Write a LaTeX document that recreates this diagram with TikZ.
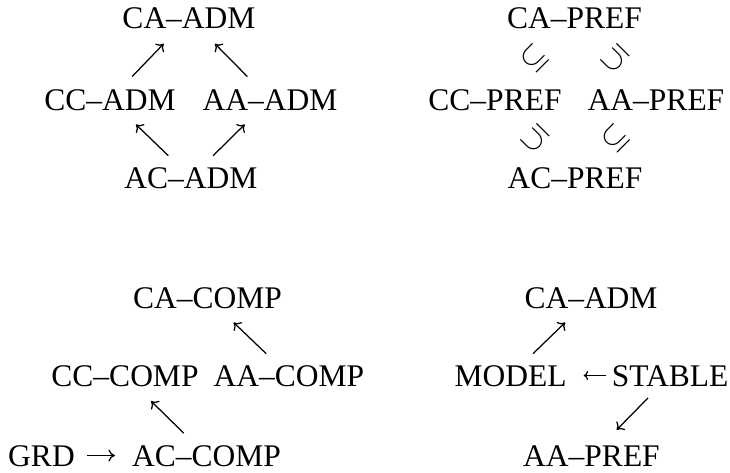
\documentclass[tikz,border=0pt]{standalone}
\usepackage{fontspec}
\setmainfont{Liberation Serif}
\usetikzlibrary{calc,arrows.meta}

\tikzset{
  lbl/.style={inner sep=0pt, anchor=base, text height=21pt, text depth=0pt,
              font=\fontsize{31.5}{38}\selectfont},
  arr/.style={line width=1.25pt, -{To[length=6.5pt,width=12pt]}},
  smallarr/.style={line width=1.2pt, -{To[length=4.5pt,width=9pt]}},
  incl/.style={inner sep=0pt}
}
% short diagonal arrow placed on the segment between two node centres
\newcommand\diagarrow[2]{\draw[arr] ($(#1)!0.28!(#2)$) -- ($(#1)!0.68!(#2)$);}
% rotated inclusion sign halfway between two node centres
\newcommand\inclsign[4]{\node[incl, rotate=#4] (#1) at ($(#2)!0.5!(#3)$)
  {\scalebox{1.25}{\fontsize{24.88}{30}\selectfont$\subseteq$}};}

\begin{document}
\begin{tikzpicture}[x=1pt,y=-1pt]
\useasboundingbox (0,0) rectangle (730,472);

% admissible semantics
\node[lbl] (caadm) at (189,28)  {CA--ADM};
\node[lbl] (ccadm) at (110,110) {CC--ADM};
\node[lbl] (aaadm) at (270,110) {AA--ADM};
\node[lbl] (acadm) at (191,188) {AC--ADM};
\diagarrow{ccadm}{caadm}
\diagarrow{aaadm}{caadm}
\diagarrow{acadm}{ccadm}
\diagarrow{acadm}{aaadm}

% preferred semantics
\node[lbl] (capref) at (574.5,28) {CA--PREF};
\node[lbl] (ccpref) at (495,110)  {CC--PREF};
\node[lbl] (aapref) at (656,110)  {AA--PREF};
\node[lbl] (acpref) at (575,188)  {AC--PREF};
\inclsign{s1}{ccpref}{capref}{45}
\inclsign{s2}{aapref}{capref}{135}
\inclsign{s3}{acpref}{ccpref}{135}
\inclsign{s4}{acpref}{aapref}{45}

% complete semantics
\node[lbl] (cacomp) at (207.5,308) {CA--COMP};
\node[lbl] (cccomp) at (125,386)   {CC--COMP};
\node[lbl] (aacomp) at (289,386)   {AA--COMP};
\node[lbl] (grd)    at (41.5,466)  {GRD};
\node[lbl] (accomp) at (206.5,466) {AC--COMP};
\diagarrow{aacomp}{cacomp}
\diagarrow{accomp}{cccomp}
\draw[arr, shorten <=12pt, shorten >=17pt] (grd.east) -- (accomp.west);

% stable and model semantics
\node[lbl] (caadm2) at (591,308)   {CA--ADM};
\node[lbl] (model)  at (510.5,386) {MODEL};
\node[lbl] (stable) at (670,386)   {STABLE};
\node[lbl] (aapref2) at (591.5,466) {AA--PREF};
\diagarrow{model}{caadm2}
\diagarrow{stable}{aapref2}
\draw[smallarr, shorten <=6pt, shorten >=17pt] (stable.west) -- (model.east);
\end{tikzpicture}
\end{document}
